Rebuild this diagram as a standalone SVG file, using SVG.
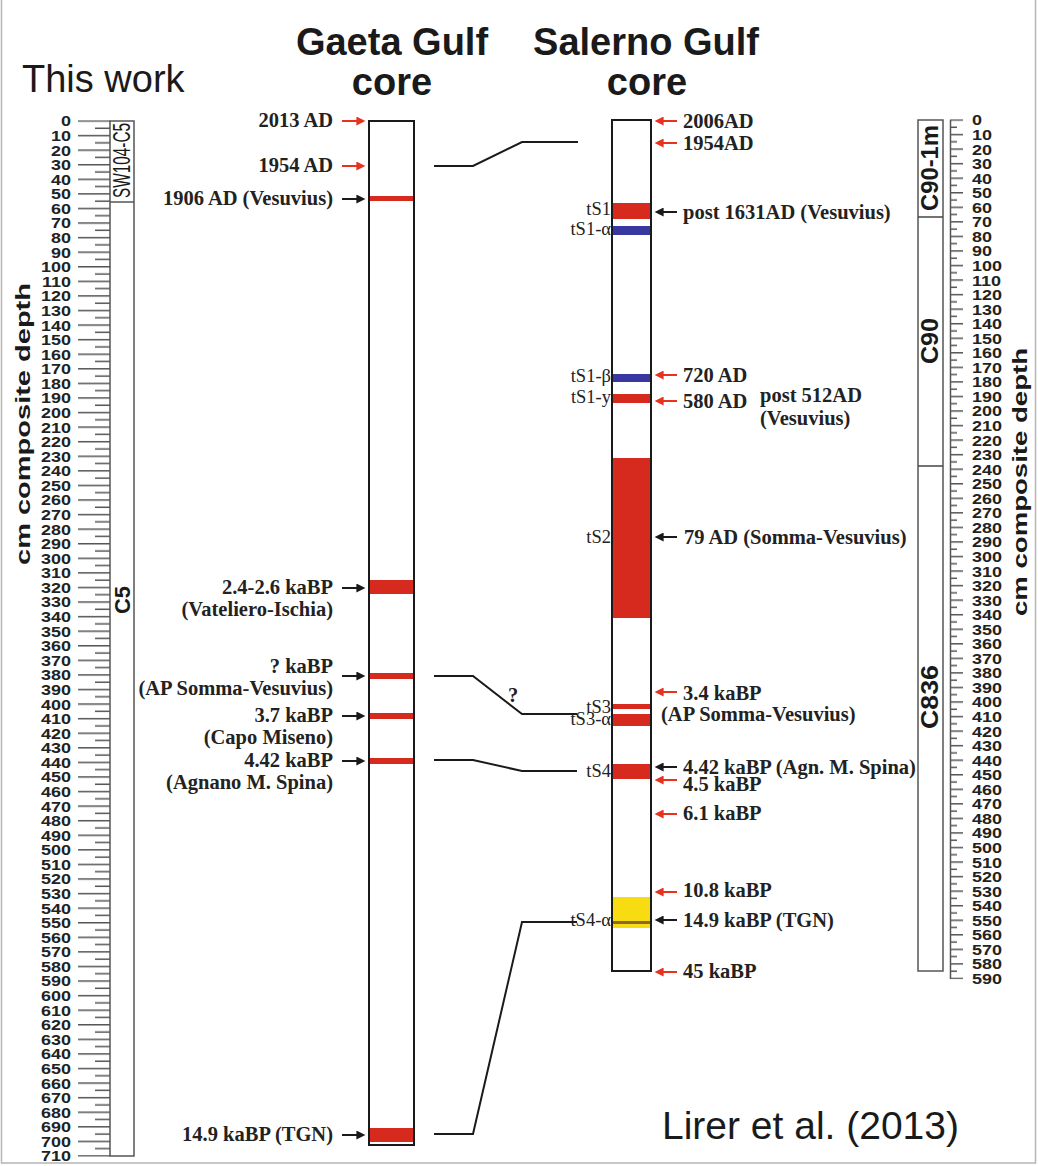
<svg xmlns="http://www.w3.org/2000/svg" width="1038" height="1166" viewBox="0 0 1038 1166">
<style>
.n{font-family:"Liberation Sans",Arial,sans-serif;font-weight:bold;font-size:14.5px;fill:#222}
.t{font-family:"Liberation Serif","Times New Roman",serif;font-weight:bold;font-size:20.5px;fill:#222}
.s{font-family:"Liberation Serif","Times New Roman",serif;font-size:18.5px;fill:#222}
.h{font-family:"Liberation Sans",Arial,sans-serif;font-weight:bold;font-size:38px;fill:#1a1a1a;text-anchor:middle}
.p{font-family:"Liberation Sans",Arial,sans-serif;font-size:38px;fill:#1a1a1a}
.b{font-family:"Liberation Sans",Arial,sans-serif;font-weight:bold;fill:#1a1a1a;text-anchor:middle}
.core{fill:#fff;stroke:#1a1a1a;stroke-width:2}
.red{fill:#d52a1d}
.blue{fill:#3838a0}
.yel{fill:#f6dc10}
.box{fill:none;stroke:#555;stroke-width:1.5}
.ar{stroke:#e8321e;stroke-width:2;fill:none;marker-end:url(#mr)}
.ak{stroke:#1a1a1a;stroke-width:2;fill:none;marker-end:url(#mk)}
.con{stroke:#1a1a1a;stroke-width:2;fill:none}
</style>
<defs>
<marker id="mr" viewBox="0 0 10 10" refX="4" refY="5" markerWidth="10" markerHeight="9" orient="auto" markerUnits="userSpaceOnUse"><path d="M0,0 L10,5 L0,10 z" fill="#e8321e"/></marker>
<marker id="mk" viewBox="0 0 10 10" refX="4" refY="5" markerWidth="10" markerHeight="9" orient="auto" markerUnits="userSpaceOnUse"><path d="M0,0 L10,5 L0,10 z" fill="#1a1a1a"/></marker>
<pattern id="tl" x="78" y="120.25" width="32" height="14.577" patternUnits="userSpaceOnUse"><rect x="0" y="0" width="32" height="1.5" fill="#555"/><rect x="17" y="7.2885" width="15" height="1.5" fill="#555"/></pattern>
<pattern id="tr" x="950" y="119.25" width="13" height="14.55" patternUnits="userSpaceOnUse"><rect x="0" y="0" width="13" height="1.5" fill="#555"/><rect x="0" y="7.275" width="7" height="1.5" fill="#555"/></pattern>
</defs>
<rect x="0" y="0" width="1038" height="1166" fill="#fff"/>
<rect x="1.5" y="-2" width="1034" height="1165" fill="none" stroke="#b5b5b5" stroke-width="1.5"/>

<!-- titles -->
<text class="p" x="22" y="92">This work</text>
<text class="h" x="392" y="55">Gaeta Gulf</text>
<text class="h" x="392" y="95">core</text>
<text class="h" x="646" y="55">Salerno Gulf</text>
<text class="h" x="647" y="95">core</text>
<text class="p" x="662" y="1139" style="font-size:39px">Lirer et al. (2013)</text>

<!-- left scale -->
<g id="left-scale">
<rect x="78" y="120.25" width="32" height="1036.5" fill="url(#tl)"/>
<rect class="box" x="110" y="121" width="24" height="1035"/>
<line x1="110" y1="202" x2="134" y2="202" stroke="#555" stroke-width="1.5"/>
<text transform="translate(130,198) rotate(-90)" style="font-family:'Liberation Sans',Arial,sans-serif;font-size:24px;fill:#1a1a1a" textLength="75" lengthAdjust="spacingAndGlyphs">SW104-C5</text>
<text class="b" transform="translate(130,600) rotate(-90)" style="font-size:22px">C5</text>
<text class="b" transform="translate(30,424) rotate(-90)" style="font-size:21px" textLength="282" lengthAdjust="spacingAndGlyphs">cm composite depth</text>
<g transform="scale(1.24,1)" text-anchor="end">
<text class="n" x="57.3" y="126.5">0</text>
<text class="n" x="57.3" y="141.1">10</text>
<text class="n" x="57.3" y="155.7">20</text>
<text class="n" x="57.3" y="170.2">30</text>
<text class="n" x="57.3" y="184.8">40</text>
<text class="n" x="57.3" y="199.4">50</text>
<text class="n" x="57.3" y="214">60</text>
<text class="n" x="57.3" y="228.5">70</text>
<text class="n" x="57.3" y="243.1">80</text>
<text class="n" x="57.3" y="257.7">90</text>
<text class="n" x="57.3" y="272.3">100</text>
<text class="n" x="57.3" y="286.8">110</text>
<text class="n" x="57.3" y="301.4">120</text>
<text class="n" x="57.3" y="316">130</text>
<text class="n" x="57.3" y="330.6">140</text>
<text class="n" x="57.3" y="345.2">150</text>
<text class="n" x="57.3" y="359.7">160</text>
<text class="n" x="57.3" y="374.3">170</text>
<text class="n" x="57.3" y="388.9">180</text>
<text class="n" x="57.3" y="403.5">190</text>
<text class="n" x="57.3" y="418">200</text>
<text class="n" x="57.3" y="432.6">210</text>
<text class="n" x="57.3" y="447.2">220</text>
<text class="n" x="57.3" y="461.8">230</text>
<text class="n" x="57.3" y="476.3">240</text>
<text class="n" x="57.3" y="490.9">250</text>
<text class="n" x="57.3" y="505.5">260</text>
<text class="n" x="57.3" y="520.1">270</text>
<text class="n" x="57.3" y="534.7">280</text>
<text class="n" x="57.3" y="549.2">290</text>
<text class="n" x="57.3" y="563.8">300</text>
<text class="n" x="57.3" y="578.4">310</text>
<text class="n" x="57.3" y="593">320</text>
<text class="n" x="57.3" y="607.5">330</text>
<text class="n" x="57.3" y="622.1">340</text>
<text class="n" x="57.3" y="636.7">350</text>
<text class="n" x="57.3" y="651.3">360</text>
<text class="n" x="57.3" y="665.9">370</text>
<text class="n" x="57.3" y="680.4">380</text>
<text class="n" x="57.3" y="695">390</text>
<text class="n" x="57.3" y="709.6">400</text>
<text class="n" x="57.3" y="724.2">410</text>
<text class="n" x="57.3" y="738.7">420</text>
<text class="n" x="57.3" y="753.3">430</text>
<text class="n" x="57.3" y="767.9">440</text>
<text class="n" x="57.3" y="782.5">450</text>
<text class="n" x="57.3" y="797">460</text>
<text class="n" x="57.3" y="811.6">470</text>
<text class="n" x="57.3" y="826.2">480</text>
<text class="n" x="57.3" y="840.8">490</text>
<text class="n" x="57.3" y="855.4">500</text>
<text class="n" x="57.3" y="869.9">510</text>
<text class="n" x="57.3" y="884.5">520</text>
<text class="n" x="57.3" y="899.1">530</text>
<text class="n" x="57.3" y="913.7">540</text>
<text class="n" x="57.3" y="928.2">550</text>
<text class="n" x="57.3" y="942.8">560</text>
<text class="n" x="57.3" y="957.4">570</text>
<text class="n" x="57.3" y="972">580</text>
<text class="n" x="57.3" y="986.5">590</text>
<text class="n" x="57.3" y="1001.1">600</text>
<text class="n" x="57.3" y="1015.7">610</text>
<text class="n" x="57.3" y="1030.3">620</text>
<text class="n" x="57.3" y="1044.9">630</text>
<text class="n" x="57.3" y="1059.4">640</text>
<text class="n" x="57.3" y="1074">650</text>
<text class="n" x="57.3" y="1088.6">660</text>
<text class="n" x="57.3" y="1103.2">670</text>
<text class="n" x="57.3" y="1117.7">680</text>
<text class="n" x="57.3" y="1132.3">690</text>
<text class="n" x="57.3" y="1146.9">700</text>
<text class="n" x="57.3" y="1161.5">710</text>
</g>
</g>

<!-- right scale -->
<g id="right-scale">
<rect class="box" x="918" y="120" width="25" height="851"/>
<line x1="918" y1="217" x2="943" y2="217" stroke="#444" stroke-width="1.5"/>
<line x1="918" y1="466" x2="943" y2="466" stroke="#444" stroke-width="1.5"/>
<text class="b" transform="translate(938,168) rotate(-90)" style="font-size:24px" textLength="86" lengthAdjust="spacingAndGlyphs">C90-1m</text>
<text class="b" transform="translate(938,341) rotate(-90)" style="font-size:24px" textLength="46" lengthAdjust="spacingAndGlyphs">C90</text>
<text class="b" transform="translate(938,697) rotate(-90)" style="font-size:24px" textLength="64" lengthAdjust="spacingAndGlyphs">C836</text>
<line x1="950.5" y1="120" x2="950.5" y2="979" stroke="#555" stroke-width="1.5"/>
<rect x="950" y="119.25" width="13" height="859.95" fill="url(#tr)"/>
<text class="b" transform="translate(1027,482) rotate(-90)" style="font-size:21px" textLength="268" lengthAdjust="spacingAndGlyphs">cm composite depth</text>
<g transform="scale(1.24,1)" text-anchor="start">
<text class="n" x="783.9" y="125.5">0</text>
<text class="n" x="783.9" y="140">10</text>
<text class="n" x="783.9" y="154.6">20</text>
<text class="n" x="783.9" y="169.2">30</text>
<text class="n" x="783.9" y="183.7">40</text>
<text class="n" x="783.9" y="198.3">50</text>
<text class="n" x="783.9" y="212.8">60</text>
<text class="n" x="783.9" y="227.4">70</text>
<text class="n" x="783.9" y="241.9">80</text>
<text class="n" x="783.9" y="256.5">90</text>
<text class="n" x="783.9" y="271">100</text>
<text class="n" x="783.9" y="285.6">110</text>
<text class="n" x="783.9" y="300.1">120</text>
<text class="n" x="783.9" y="314.7">130</text>
<text class="n" x="783.9" y="329.2">140</text>
<text class="n" x="783.9" y="343.8">150</text>
<text class="n" x="783.9" y="358.3">160</text>
<text class="n" x="783.9" y="372.9">170</text>
<text class="n" x="783.9" y="387.4">180</text>
<text class="n" x="783.9" y="402">190</text>
<text class="n" x="783.9" y="416.5">200</text>
<text class="n" x="783.9" y="431.1">210</text>
<text class="n" x="783.9" y="445.6">220</text>
<text class="n" x="783.9" y="460.2">230</text>
<text class="n" x="783.9" y="474.7">240</text>
<text class="n" x="783.9" y="489.3">250</text>
<text class="n" x="783.9" y="503.8">260</text>
<text class="n" x="783.9" y="518.4">270</text>
<text class="n" x="783.9" y="532.9">280</text>
<text class="n" x="783.9" y="547.5">290</text>
<text class="n" x="783.9" y="562">300</text>
<text class="n" x="783.9" y="576.6">310</text>
<text class="n" x="783.9" y="591.1">320</text>
<text class="n" x="783.9" y="605.7">330</text>
<text class="n" x="783.9" y="620.2">340</text>
<text class="n" x="783.9" y="634.8">350</text>
<text class="n" x="783.9" y="649.3">360</text>
<text class="n" x="783.9" y="663.9">370</text>
<text class="n" x="783.9" y="678.4">380</text>
<text class="n" x="783.9" y="693">390</text>
<text class="n" x="783.9" y="707.5">400</text>
<text class="n" x="783.9" y="722.1">410</text>
<text class="n" x="783.9" y="736.6">420</text>
<text class="n" x="783.9" y="751.2">430</text>
<text class="n" x="783.9" y="765.7">440</text>
<text class="n" x="783.9" y="780.3">450</text>
<text class="n" x="783.9" y="794.8">460</text>
<text class="n" x="783.9" y="809.4">470</text>
<text class="n" x="783.9" y="823.9">480</text>
<text class="n" x="783.9" y="838.5">490</text>
<text class="n" x="783.9" y="853">500</text>
<text class="n" x="783.9" y="867.6">510</text>
<text class="n" x="783.9" y="882.1">520</text>
<text class="n" x="783.9" y="896.7">530</text>
<text class="n" x="783.9" y="911.2">540</text>
<text class="n" x="783.9" y="925.8">550</text>
<text class="n" x="783.9" y="940.3">560</text>
<text class="n" x="783.9" y="954.9">570</text>
<text class="n" x="783.9" y="969.4">580</text>
<text class="n" x="783.9" y="984">590</text>
</g>
</g>

<!-- Gaeta core -->
<g id="gaeta-core">
<rect class="core" x="369" y="121" width="45" height="1024"/>
<rect class="red" x="370" y="196" width="43" height="5"/>
<rect class="red" x="370" y="580" width="43" height="14"/>
<rect class="red" x="370" y="673" width="43" height="6"/>
<rect class="red" x="370" y="713" width="43" height="6"/>
<rect class="red" x="370" y="758" width="43" height="6"/>
<rect class="red" x="370" y="1128" width="43" height="14"/>
</g>
<g id="gaeta-labels" text-anchor="end">
<text class="t" x="333" y="127">2013 AD</text>
<text class="t" x="333" y="172">1954 AD</text>
<text class="t" x="333" y="205">1906 AD (Vesuvius)</text>
<text class="t" x="333" y="594">2.4-2.6 kaBP</text>
<text class="t" x="333" y="616">(Vateliero-Ischia)</text>
<text class="t" x="333" y="673">? kaBP</text>
<text class="t" x="333" y="695">(AP Somma-Vesuvius)</text>
<text class="t" x="333" y="722">3.7 kaBP</text>
<text class="t" x="333" y="744">(Capo Miseno)</text>
<text class="t" x="333" y="767">4.42 kaBP</text>
<text class="t" x="333" y="789">(Agnano M. Spina)</text>
<text class="t" x="333" y="1141">14.9 kaBP (TGN)</text>
</g>

<!-- Salerno core -->
<g id="salerno-core">
<rect class="core" x="612" y="120" width="39" height="851"/>
<rect class="red" x="613" y="203" width="37" height="16"/>
<rect class="blue" x="613" y="226" width="37" height="9"/>
<rect class="blue" x="613" y="374" width="37" height="8"/>
<rect class="red" x="613" y="394" width="37" height="9"/>
<rect class="red" x="613" y="458" width="37" height="160"/>
<rect class="red" x="613" y="704" width="37" height="5"/>
<rect class="red" x="613" y="714" width="37" height="12"/>
<rect class="red" x="613" y="764" width="37" height="15"/>
<rect class="yel" x="613" y="897" width="37" height="31"/>
<rect x="613" y="921" width="37" height="3" fill="#8a6a28"/>
</g>
<g id="salerno-tephra" text-anchor="end">
<text class="s" x="611" y="215">tS1</text>
<text class="s" x="611" y="235">tS1-α</text>
<text class="s" x="611" y="382">tS1-β</text>
<text class="s" x="611" y="403">tS1-y</text>
<text class="s" x="611" y="543">tS2</text>
<text class="s" x="611" y="713">tS3</text>
<text class="s" x="611" y="725">tS3-α</text>
<text class="s" x="611" y="777">tS4</text>
<text class="s" x="611" y="926">tS4-α</text>
</g>
<g id="salerno-labels">
<text class="t" x="683" y="128">2006AD</text>
<text class="t" x="683" y="150">1954AD</text>
<text class="t" x="683" y="219">post 1631AD (Vesuvius)</text>
<text class="t" x="683" y="382">720 AD</text>
<text class="t" x="683" y="408">580 AD</text>
<text class="t" x="760" y="402">post 512AD</text>
<text class="t" x="760" y="425">(Vesuvius)</text>
<text class="t" x="684" y="544">79 AD (Somma-Vesuvius)</text>
<text class="t" x="683" y="700">3.4 kaBP</text>
<text class="t" x="661" y="721">(AP Somma-Vesuvius)</text>
<text class="t" x="683" y="774">4.42 kaBP (Agn. M. Spina)</text>
<text class="t" x="683" y="791">4.5 kaBP</text>
<text class="t" x="683" y="820">6.1 kaBP</text>
<text class="t" x="683" y="897">10.8 kaBP</text>
<text class="t" x="683" y="927">14.9 kaBP (TGN)</text>
<text class="t" x="683" y="978">45 kaBP</text>
</g>

<!-- connectors -->
<g id="connectors">
<path class="ar" d="M342 121 H360"/>
<path class="ar" d="M342 166 H360"/>
<path class="ak" d="M342 199 H360"/>
<path class="ak" d="M342 588 H360"/>
<path class="ak" d="M342 676 H360"/>
<path class="ak" d="M342 716 H360"/>
<path class="ak" d="M342 761 H360"/>
<path class="ak" d="M342 1135 H360"/>
<path class="ar" d="M677 121 H660"/>
<path class="ar" d="M677 143 H660"/>
<path class="ak" d="M677 212 H660"/>
<path class="ar" d="M677 375 H660"/>
<path class="ar" d="M677 401 H660"/>
<path class="ak" d="M677 537 H660"/>
<path class="ar" d="M677 692 H660"/>
<path class="ak" d="M677 767 H660"/>
<path class="ar" d="M677 780 H660"/>
<path class="ar" d="M677 814 H660"/>
<path class="ar" d="M677 892 H660"/>
<path class="ak" d="M677 920 H660"/>
<path class="ar" d="M677 972 H660"/>
<path class="con" d="M434 166 H473 L522 142 H578"/>
<path class="con" d="M434 676 H473 L522 714 H577"/>
<path class="con" d="M434 760 H473 L522 771 H577"/>
<path class="con" d="M434 1134 H473 L522 922 H577"/>
<text class="t" x="513" y="702" text-anchor="middle">?</text>
</g>
</svg>
